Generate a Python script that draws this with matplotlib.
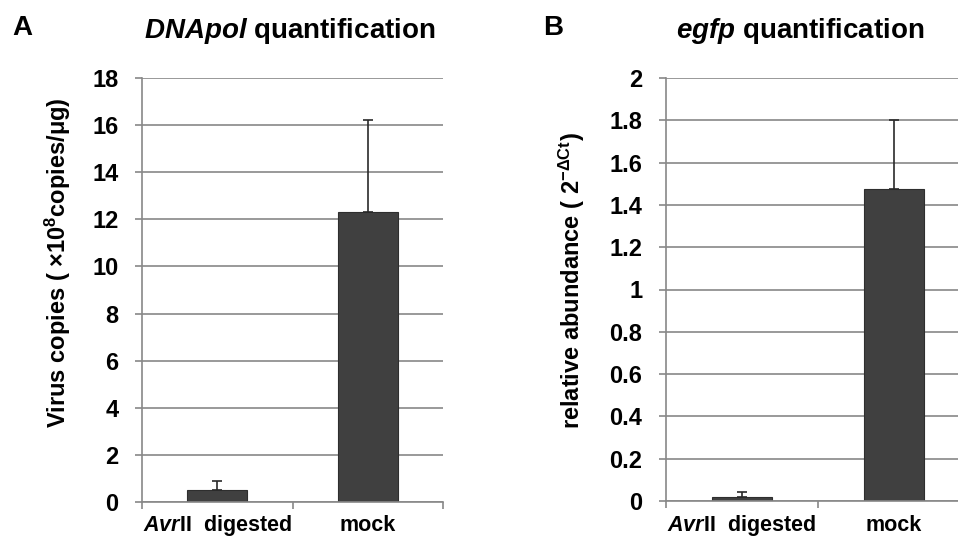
import numpy as np
import matplotlib
matplotlib.use("Agg")
import matplotlib.pyplot as plt
import matplotlib.transforms as mtransforms

plt.rcParams['font.family'] = ['Liberation Sans', 'DejaVu Sans']
plt.rcParams['font.weight'] = 'bold'
plt.rcParams['mathtext.fontset'] = 'custom'
plt.rcParams['mathtext.rm'] = 'Liberation Sans:bold'
plt.rcParams['mathtext.bf'] = 'Liberation Sans:bold'
plt.rcParams['mathtext.it'] = 'Liberation Sans:italic:bold'

# data
categories = [r'$\mathit{Avr}$II  digested', 'mock']

dnapol_mean = [0.50, 12.33]
dnapol_err = [0.41, 3.88]
dnapol_ticks = [0, 2, 4, 6, 8, 10, 12, 14, 16, 18]

egfp_mean = [0.018, 1.474]
egfp_err = [0.026, 0.326]
egfp_ticks = [0, 0.2, 0.4, 0.6, 0.8, 1.0, 1.2, 1.4, 1.6, 1.8, 2.0]
egfp_ticklabels = ['0', '0.2', '0.4', '0.6', '0.8', '1', '1.2', '1.4', '1.6', '1.8', '2']

W, H = 958, 538
fig = plt.figure(figsize=(W / 100, H / 100), dpi=100)

bar_col = '#404040'
grid_col = '#888888'


def panel(rect, mean, err, ticks, ticklabels, ylabel, labelpad, label_y):
    ax = fig.add_axes(rect)
    x = np.arange(len(mean))
    ax.set_axisbelow(True)
    ax.yaxis.grid(True, color=grid_col, linewidth=1.2)
    ax.bar(x, mean, width=0.4, color=bar_col, edgecolor='#2e2e2e', linewidth=0.8, zorder=2)
    ax.errorbar(x, mean, yerr=[np.zeros(len(err)), err], fmt='none',
                ecolor='#2a2a2a', elinewidth=1.2, capsize=3.3, capthick=1.2, zorder=3)
    ax.set_xlim(-0.5, len(mean) - 0.5)
    ax.set_ylim(ticks[0], ticks[-1])
    ax.set_yticks(ticks)
    ax.set_yticklabels(ticklabels)
    ax.set_xticks(np.arange(len(mean) + 1) - 0.5)
    ax.set_xticklabels([])
    ax.tick_params(axis='x', which='major', direction='out', length=5, width=1.2, color=grid_col)
    ax.tick_params(axis='y', direction='out', length=5, width=1.2, color=grid_col,
                   pad=12, labelsize=17)
    # category labels on a common baseline near the bottom edge
    tr = mtransforms.blended_transform_factory(ax.transData, fig.transFigure)
    for xi, lab in zip(x, categories):
        ax.text(xi, 7 / H, lab, transform=tr, ha='center', va='baseline',
                fontsize=15.5, fontweight='bold')
    for s in ['top', 'right']:
        ax.spines[s].set_visible(False)
    for s in ['left', 'bottom']:
        ax.spines[s].set_color(grid_col)
        ax.spines[s].set_linewidth(1.2)
    ax.set_ylabel(ylabel, fontsize=17, fontweight='bold', labelpad=labelpad)
    ax.yaxis.label.set_y(label_y)
    return ax


axA = panel([142 / W, 1 - 502 / H, 301 / W, 424 / H], dnapol_mean, dnapol_err,
            dnapol_ticks, [str(t) for t in dnapol_ticks],
            'Virus copies ( \u00d710$^{8}$copies/\u03bcg)', 14, 0.565)
axB = panel([666 / W, 1 - 501 / H, 304 / W, 423 / H], egfp_mean, egfp_err,
            egfp_ticks, egfp_ticklabels,
            r'relative abundance ( 2$^{-\Delta\mathrm{Ct}}$)', 16, 0.52)

fig.text(290 / W, 1 - 38 / H, r'$\mathit{DNApol}$ quantification', fontsize=20,
         fontweight='bold', ha='center', va='baseline')
fig.text(800 / W, 1 - 38 / H, r'$\mathit{egfp}$ quantification', fontsize=20,
         fontweight='bold', ha='center', va='baseline')
fig.text(12 / W, 1 - 35 / H, 'A', fontsize=20, fontweight='bold', va='baseline')
fig.text(543 / W, 1 - 35 / H, 'B', fontsize=20, fontweight='bold', va='baseline')

fig.savefig('out.png', dpi=100)
